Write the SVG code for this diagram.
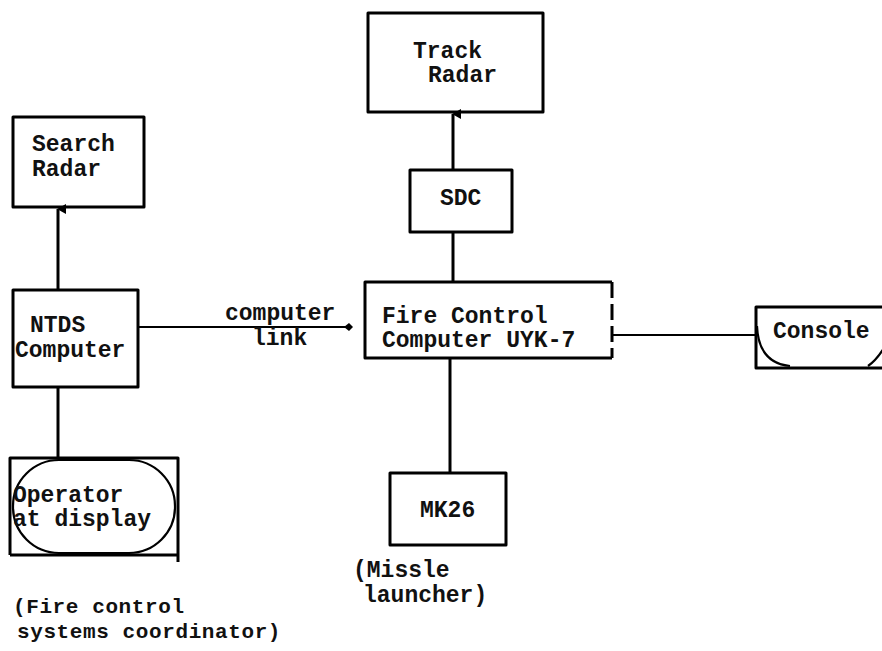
<svg xmlns="http://www.w3.org/2000/svg" width="882" height="651" viewBox="0 0 882 651">
<defs>
<style>
.box{fill:none;stroke:#000;stroke-width:3;stroke-linejoin:round}
.ln{fill:none;stroke:#000;stroke-width:3}
.thin{fill:none;stroke:#000;stroke-width:2.2}
text{font-family:"Liberation Mono","DejaVu Sans Mono",monospace;font-size:23px;font-weight:bold;fill:#111}
.sm{font-size:21px;letter-spacing:0.6px}
</style>
<marker id="tri" markerWidth="10" markerHeight="10" refX="5" refY="1" orient="auto" markerUnits="userSpaceOnUse" viewBox="0 0 10 10">
<path d="M0,9 L5,0 L10,9 Z" fill="#000"/>
</marker>
<marker id="dot" markerWidth="10" markerHeight="10" refX="8" refY="5" orient="auto" markerUnits="userSpaceOnUse" viewBox="0 0 10 10">
<path d="M0,5 L5,1 L9,5 L5,9 Z" fill="#000"/>
</marker>
</defs>
<rect width="882" height="651" fill="#fff"/>

<g id="connectors">
<line class="ln" x1="58" y1="290" x2="58" y2="209" marker-end="url(#tri)"/>
<line class="ln" x1="453" y1="170" x2="453" y2="114" marker-end="url(#tri)"/>
<line class="thin" x1="138" y1="327" x2="352" y2="327" marker-end="url(#dot)"/>
<line class="ln" x1="453" y1="232" x2="453" y2="282"/>
<line class="thin" x1="612" y1="335" x2="756" y2="335"/>
<line class="ln" x1="450" y1="358" x2="450" y2="473"/>
<line class="ln" x1="58" y1="387" x2="58" y2="458"/>
</g>

<g id="search-radar">
<rect class="box" x="13" y="117" width="131" height="90"/>
<text x="32" y="151">Search</text>
<text x="32" y="176">Radar</text>
</g>

<g id="track-radar">
<rect class="box" x="368" y="13" width="175" height="99"/>
<text x="413" y="58">Track</text>
<text x="428" y="82">Radar</text>
</g>

<g id="sdc">
<rect class="box" x="410" y="170" width="102" height="62"/>
<text x="440" y="205">SDC</text>
</g>

<g id="ntds">
<rect class="box" x="13" y="290" width="125" height="97"/>
<text x="30" y="332">NTDS</text>
<text x="15" y="357">Computer</text>
</g>

<g id="link-label">
<text x="225" y="320">computer</text>
<text x="252" y="345">link</text>
</g>

<g id="fire-control">
<path class="box" d="M612,282 L365,282 L365,358 L612,358"/>
<line class="ln" x1="612" y1="282" x2="612" y2="358" stroke-dasharray="16 6"/>
<text x="382" y="323">Fire Control</text>
<text x="382" y="347">Computer UYK-7</text>
</g>

<g id="console">
<path class="box" d="M890,307 L756,307 L756,368 L890,368"/>
<path class="thin" d="M757,326 C758,350 768,364 790,366"/>
<path class="thin" d="M868,366 C874,362 879,356 884,348"/>
<text x="773" y="338">Console</text>
</g>

<g id="mk26">
<rect class="box" x="390" y="473" width="116" height="72"/>
<text x="420" y="517">MK26</text>
<text x="353" y="577">(Missle</text>
<text x="363" y="602">launcher)</text>
</g>

<g id="operator">
<path class="box" d="M10,555 L10,458 L178,458 L178,562 M10,555 L178,555"/>
<rect class="thin" x="13" y="460" width="162" height="93" rx="46" ry="46"/>
<text x="13" y="502">Operator</text>
<text x="13" y="526">at display</text>
<text class="sm" x="13" y="613">(Fire control</text>
<text class="sm" x="17" y="638">systems coordinator)</text>
</g>
</svg>
